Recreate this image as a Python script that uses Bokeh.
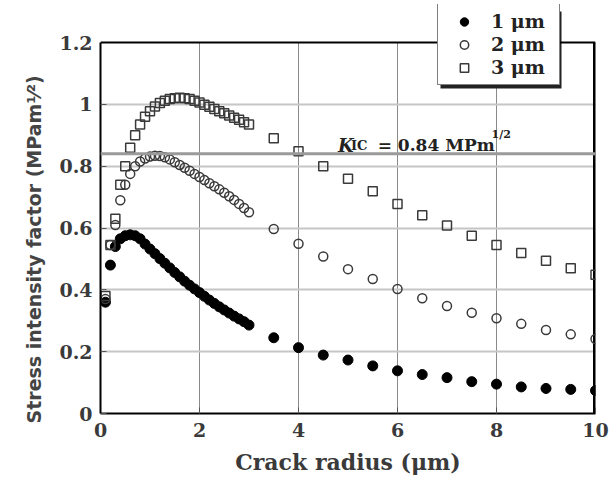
from bokeh.plotting import figure
from bokeh.models import (Span, Label, Legend, LegendItem, FixedTicker,
                          NumeralTickFormatter, Range1d, Title)
from bokeh.embed import file_html
from bokeh.resources import INLINE

# ---------------- data ----------------
radius = [0.1, 0.2, 0.3, 0.4, 0.5, 0.6, 0.7, 0.8, 0.9, 1.0,
          1.1, 1.2, 1.3, 1.4, 1.5, 1.6, 1.7, 1.8, 1.9, 2.0,
          2.1, 2.2, 2.3, 2.4, 2.5, 2.6, 2.7, 2.8, 2.9, 3.0,
          3.5, 4.0, 4.5, 5.0, 5.5, 6.0, 6.5, 7.0, 7.5, 8.0,
          8.5, 9.0, 9.5, 10.0]

k_1um = [0.36, 0.48, 0.54, 0.565, 0.575, 0.578, 0.575, 0.565, 0.548, 0.532,
         0.517, 0.501, 0.486, 0.471, 0.456, 0.442, 0.428, 0.415, 0.403, 0.391,
         0.379, 0.367, 0.356, 0.345, 0.335, 0.325, 0.315, 0.306, 0.297, 0.286,
         0.245, 0.213, 0.189, 0.173, 0.154, 0.138, 0.126, 0.116, 0.103, 0.095,
         0.086, 0.081, 0.078, 0.074]

k_2um = [0.37, 0.545, 0.61, 0.69, 0.74, 0.775, 0.80, 0.815, 0.825, 0.831,
         0.834, 0.833, 0.829, 0.822, 0.813, 0.804, 0.795, 0.785, 0.775, 0.765,
         0.755, 0.745, 0.735, 0.725, 0.714, 0.703, 0.691, 0.678, 0.665, 0.651,
         0.597, 0.549, 0.508, 0.467, 0.435, 0.403, 0.373, 0.348, 0.326, 0.308,
         0.290, 0.270, 0.256, 0.241]

k_3um = [0.38, 0.545, 0.63, 0.74, 0.80, 0.86, 0.90, 0.935, 0.96, 0.978,
         0.993, 1.004, 1.012, 1.017, 1.020, 1.021, 1.020, 1.017, 1.012, 1.006,
         0.999, 0.992, 0.985, 0.978, 0.971, 0.964, 0.957, 0.950, 0.942, 0.935,
         0.890, 0.848, 0.800, 0.759, 0.719, 0.678, 0.641, 0.608, 0.575, 0.545,
         0.519, 0.494, 0.470, 0.449]

x_ticks = [0, 2, 4, 6, 8, 10]
y_ticks = [0, 0.2, 0.4, 0.6, 0.8, 1.0, 1.2]
x_grid = [2, 4, 6, 8]
y_grid = [0.2, 0.4, 0.6, 0.8, 1.0]
kic = 0.84
x_max = 10
y_max = 1.2
series_labels = ["1 \u03bcm", "2 \u03bcm", "3 \u03bcm"]

SERIF = "DejaVu Serif"
SANS = "DejaVu Sans"

W, H = 609, 486
BL, BR, BT, BB = 100, 14, 4, 73
Y_TOP = 1.323  # frame extends above 1.2 so the legend overlapping the top border is not clipped

p = figure(width=W, height=H, x_range=Range1d(0, x_max), y_range=Range1d(0, Y_TOP),
           output_backend="svg", toolbar_location=None,
           min_border_left=BL, min_border_right=BR, min_border_top=BT,
           min_border_bottom=BB)
p.background_fill_color = "white"
p.border_fill_color = "white"
p.outline_line_color = None

# grids
p.xgrid.ticker = FixedTicker(ticks=x_grid)
p.xgrid.grid_line_color = "#8a8a8a"
p.xgrid.grid_line_width = 1
p.xgrid.cross_bounds = (0, y_max)
p.ygrid.ticker = FixedTicker(ticks=y_grid)
p.ygrid.grid_line_color = "#c6c6c6"
p.ygrid.grid_line_width = 2

p.add_layout(Span(location=kic, dimension="width", line_color="#9a9a9a", line_width=3))
# top border of the plot box
p.add_layout(Span(location=y_max, dimension="width", line_color="black", line_width=2))
# right border of the plot box (half of it is clipped by the frame edge)
p.segment(x0=[x_max], y0=[0], x1=[x_max], y1=[y_max], line_color="black", line_width=5)

# axes
for ax in (p.xaxis[0], p.yaxis[0]):
    ax.axis_line_color = "black"
    ax.axis_line_width = 2
    ax.major_tick_in = 6
    ax.major_tick_out = 0
    ax.major_tick_line_color = "#555555"
    ax.minor_tick_line_color = None
    ax.major_label_text_font = SERIF
    ax.major_label_text_font_size = "19px"
    ax.major_label_text_color = "#3a3a3a"
    ax.major_label_text_font_style = "bold"
    ax.formatter = NumeralTickFormatter(format="0.[0]")

p.yaxis.bounds = (0, y_max)
p.xaxis.ticker = FixedTicker(ticks=x_ticks)
p.yaxis.ticker = FixedTicker(ticks=y_ticks)
p.xaxis.major_label_standoff = 9
p.yaxis.major_label_standoff = 8

p.xaxis.axis_label = "Crack radius (\u03bcm)"
p.xaxis.axis_label_text_font = SERIF
p.xaxis.axis_label_text_font_size = "22px"
p.xaxis.axis_label_text_font_style = "bold"
p.xaxis.axis_label_text_color = "#3a3a3a"
p.xaxis.axis_label_standoff = 9

# y title as a side-panel title so it can start just below the frame bottom
ytitle = Title(text="Stress intensity factor (MPam\u00b9\u2044\u00b2)", align="left",
               offset=-10, standoff=24, text_font=SANS, text_font_size="19px",
               text_font_style="bold", text_color="#444444")
p.add_layout(ytitle, "left")

# legend geometry (pixels, from the frame's bottom-left)
LEG_X, LEG_Y, LEG_W, LEG_H, SHADOW = 337, 328, 121, 77, 3
fw = W - BL - BR
fh = H - BT - BB
p.quad(left=[(LEG_X + SHADOW) / fw * x_max], right=[(LEG_X + LEG_W + SHADOW) / fw * x_max],
       bottom=[(LEG_Y - SHADOW) / fh * Y_TOP], top=[(LEG_Y + LEG_H - SHADOW) / fh * Y_TOP],
       fill_color="#222222", line_color=None)

# markers
r1 = p.scatter(radius, k_1um, marker="circle", size=10, fill_color="black",
               line_color="black")
r2 = p.scatter(radius, k_2um, marker="circle", size=9, fill_color=None,
               line_color="#3a3a3a", line_width=1.5)
r3 = p.scatter(radius, k_3um, marker="square", size=9, fill_color=None,
               line_color="#3a3a3a", line_width=1.5)

# Kic annotation
lab_kw = dict(text_font=SERIF, text_color="#222222", text_baseline="alphabetic")
p.add_layout(Label(x=4.8, y=0.868, text="K", text_font_size="18px",
                   text_font_style="bold italic", **lab_kw))
p.add_layout(Label(x=5.06, y=0.868, text="IC", text_font_size="13px",
                   text_font_style="bold", **lab_kw))
p.add_layout(Label(x=5.6, y=0.868, text="= 0.84 MPm", text_font_size="17px",
                   text_font_style="bold", **lab_kw))
p.add_layout(Label(x=7.9, y=0.902, text="1/2", text_font_size="11px",
                   text_font_style="bold", **lab_kw))

legend = Legend(items=[LegendItem(label=series_labels[0], renderers=[r1]),
                       LegendItem(label=series_labels[1], renderers=[r2]),
                       LegendItem(label=series_labels[2], renderers=[r3])],
                location=(LEG_X, LEG_Y), orientation="vertical")
legend.label_text_font = SERIF
legend.label_text_font_size = "19px"
legend.label_text_font_style = "bold"
legend.label_text_color = "#222222"
legend.border_line_color = "black"
legend.border_line_width = 1.5
legend.background_fill_color = "white"
legend.background_fill_alpha = 1
legend.glyph_height = 21
legend.glyph_width = 40
legend.label_height = 21
legend.label_width = 62
legend.spacing = 1
legend.padding = 6
legend.margin = 0
legend.label_standoff = 7
p.add_layout(legend)

open("out.html", "w").write(file_html(p, INLINE))
